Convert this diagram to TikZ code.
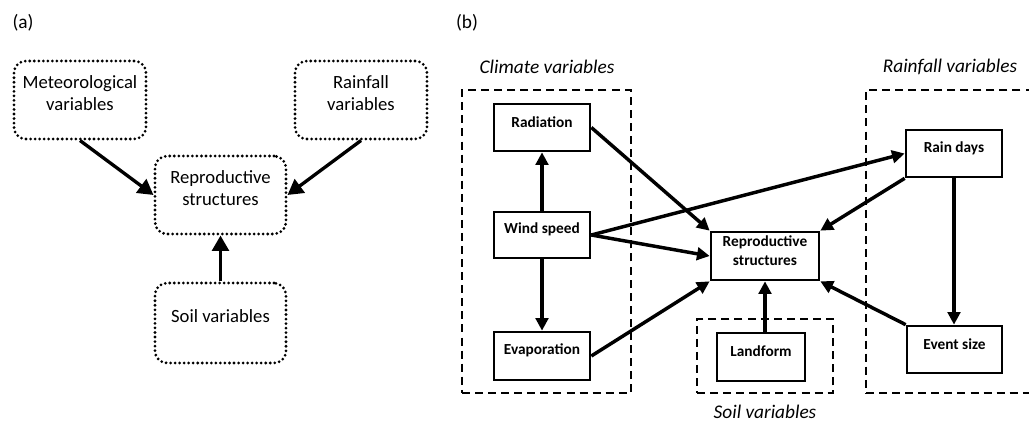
\documentclass[tikz,border=0pt]{standalone}
\usepackage{fontspec}
\setmainfont{Carlito}
\usetikzlibrary{arrows.meta,fit}
\begin{document}
\begin{tikzpicture}[x=0.75pt,y=-0.75pt,
  dotbox/.style={draw, line width=2.3pt, dash pattern=on 0pt off 3.4pt, line cap=round,
     rounded corners=9pt, inner sep=0pt, align=center, font=\fontsize{14}{16.5}\selectfont},
  sqbox/.style={draw, line width=2pt, inner sep=0pt, align=center,
     font=\bfseries\fontsize{11.5}{14}\selectfont},
  grp/.style={draw, line width=1.8pt, dash pattern=on 6pt off 3.8pt, inner sep=0pt},
  arrA/.style={line width=2.5pt, -{Triangle[length=11.5pt,width=12.5pt]}},
  arrB/.style={line width=2.6pt, -{Triangle[length=9.5pt,width=9.5pt]}},
  lbl/.style={font=\fontsize{14.5}{16}\selectfont},
  grplbl/.style={font=\itshape\fontsize{14.5}{17}\selectfont}
]
\useasboundingbox (0,0) rectangle (1029,431);

% ---------- panel (a)
\node[lbl] (la) at (23,23) {(a)};
\node[dotbox, fit={(14,61) (146,139)}] (met) {Meteorological\\variables};
\node[dotbox, fit={(295,61) (427,139)}] (rainA) {Rainfall\\variables};
\node[dotbox, fit={(155,156) (286,234)}] (reprA) {Reproductive\\structures};
\node[dotbox, fit={(155,283) (286,363)}] (soilA) {Soil variables};
\draw[arrA] (met.south) -- (reprA.west);
\draw[arrA] (rainA.south) -- (reprA.east);
\draw[arrA] (soilA.north) -- (reprA.south);

% ---------- panel (b)
\node[lbl] (lb) at (467,23) {(b)};
\node[grp, fit={(462,90) (631,393)}] (gclim) {};
\node[grp, fit={(697,319) (833,393)}] (gsoil) {};
\node[grp, fit={(866,90) (1040,393)}] (grain) {};
\node[grplbl] (tclim) at (547,67) {Climate variables};
\node[grplbl] (train) at (950,67) {Rainfall variables};
\node[grplbl] (tsoil) at (765,412) {Soil variables};

\node[sqbox, fit={(494,104) (590,151)}] (rad) {Radiation};
\node[sqbox, fit={(494,212) (590,258)}] (wind) {Wind speed};
\node[sqbox, fit={(494,332) (590,380)}] (evap) {Evaporation};
\node[sqbox, fit={(711,232) (819,280)}] (reprB) {Reproductive\\structures};
\node[sqbox, fit={(717,333) (805,381)}] (land) {Landform};
\node[sqbox, fit={(906,130) (1002,177)}] (rdays) {Rain days};
\node[sqbox, fit={(907,326) (1002,373)}] (esize) {Event size};

\draw[arrB] (wind.north) -- (rad.south);
\draw[arrB] (wind.south) -- (evap.north);
\draw[arrB] (rad.east) -- (reprB.north west);
\draw[arrB] (wind.east) -- (reprB.west);
\draw[arrB] (wind.east) -- (rdays.west);
\draw[arrB] (evap.east) -- (reprB.south west);
\draw[arrB] (rdays.south west) -- (reprB.north east);
\draw[arrB] (esize.north west) -- (reprB.south east);
\draw[arrB] (rdays.south) -- (rdays.south |- esize.north);
\draw[arrB] (land.north -| reprB.south) -- (reprB.south);
\end{tikzpicture}
\end{document}
